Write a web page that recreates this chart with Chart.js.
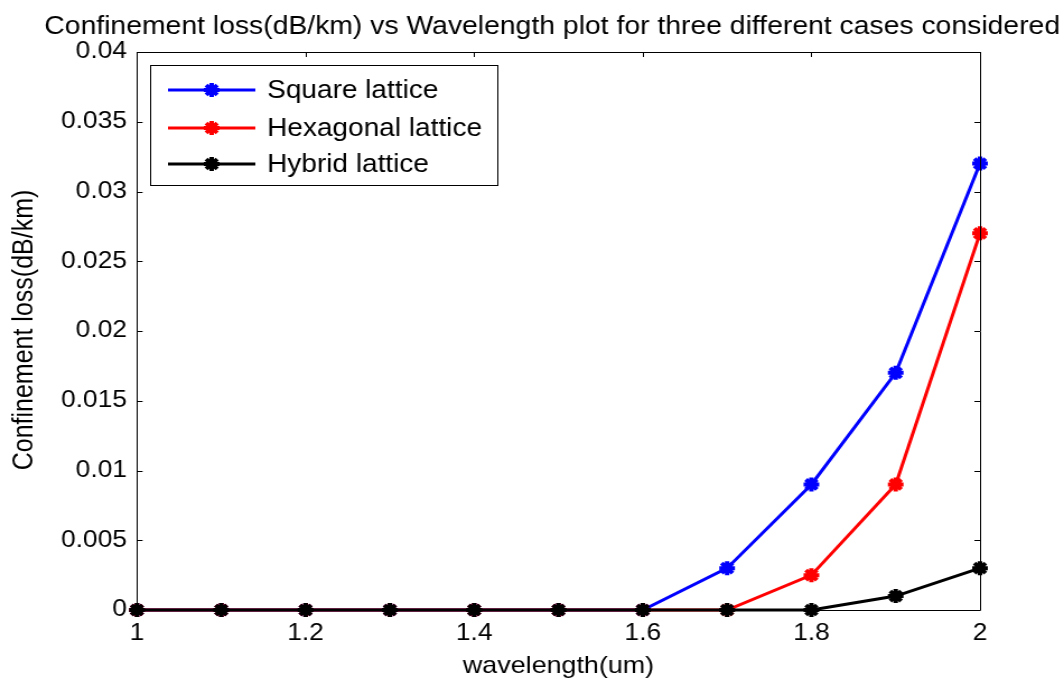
<!DOCTYPE html>
<html>
<head>
<meta charset="utf-8">
<script src="https://cdn.jsdelivr.net/npm/chart.js@4.4.0/dist/chart.umd.min.js"></script>
<style>
  html, body { margin: 0; padding: 0; background: #fff; overflow: hidden; }
  #wrap { width: 950px; height: 681px; transform-origin: 0 0; transform: scaleX(1.12); }
  canvas { display: block; }
</style>
</head>
<body>
<div id="wrap"><canvas id="c" width="950" height="681"></canvas></div>
<script>
const wavelength = [1.0, 1.1, 1.2, 1.3, 1.4, 1.5, 1.6, 1.7, 1.8, 1.9, 2.0];
const squareLoss = [0, 0, 0, 0, 0, 0, 0, 0.003, 0.009, 0.017, 0.032];
const hexagonalLoss = [0, 0, 0, 0, 0, 0, 0, 0, 0.0025, 0.009, 0.027];
const hybridLoss = [0, 0, 0, 0, 0, 0, 0, 0, 0, 0.001, 0.003];
const seriesNames = ['Square lattice', 'Hexagonal lattice', 'Hybrid lattice'];
const xTicks = [1, 1.2, 1.4, 1.6, 1.8, 2];
const yTicks = [0, 0.005, 0.01, 0.015, 0.02, 0.025, 0.03, 0.035, 0.04];
const titleText = 'Confinement loss(dB/km) vs Wavelength plot for three different cases considered';
const xLabel = 'wavelength(um)';
const yLabel = 'Confinement loss(dB/km)';

const FONT = '"Liberation Sans", Arial, sans-serif';

function mkData(arr) { return wavelength.map((x, i) => ({ x: x, y: arr[i] })); }

const colors = ['#0000ff', '#ff0000', '#000000'];
const datasets = [squareLoss, hexagonalLoss, hybridLoss].map((arr, i) => ({
  label: seriesNames[i],
  data: mkData(arr),
  borderColor: colors[i],
  backgroundColor: colors[i],
  borderWidth: 3,
  pointStyle: 'star',
  pointRadius: 7,
  pointBorderWidth: 4,
  pointBackgroundColor: colors[i],
  pointBorderColor: colors[i],
  tension: 0,
  clip: false,
  order: 2 - i
}));

const frame = {
  id: 'frame',
  afterDatasetsDraw(chart) {
    const ctx = chart.ctx, a = chart.chartArea;
    const xs = chart.scales.x, ys = chart.scales.y;
    ctx.save();
    ctx.strokeStyle = '#000';
    ctx.lineWidth = 1;
    ctx.beginPath();
    ctx.rect(Math.round(a.left) + 0.5, Math.round(a.top) + 0.5, Math.round(a.right - a.left), Math.round(a.bottom - a.top));
    ctx.stroke();
    const tl = 5;
    ctx.beginPath();
    xTicks.forEach(v => {
      const px = Math.round(xs.getPixelForValue(v)) + 0.5;
      ctx.moveTo(px, a.bottom); ctx.lineTo(px, a.bottom - tl);
      ctx.moveTo(px, a.top); ctx.lineTo(px, a.top + tl);
    });
    yTicks.forEach(v => {
      const py = Math.round(ys.getPixelForValue(v)) + 0.5;
      ctx.moveTo(a.left, py); ctx.lineTo(a.left + tl, py);
      ctx.moveTo(a.right, py); ctx.lineTo(a.right - tl, py);
    });
    ctx.stroke();

    // legend
    const bx = 134, by = 65, bw = 310, bh = 120;
    ctx.fillStyle = '#fff';
    ctx.fillRect(bx, by, bw, bh);
    ctx.strokeRect(bx + 0.5, by + 0.5, bw, bh);
    const rows = [90, 128, 164];
    chart.data.datasets.forEach((ds, i) => {
      const y = rows[i];
      ctx.strokeStyle = ds.borderColor;
      ctx.lineWidth = 3;
      ctx.beginPath(); ctx.moveTo(150, y); ctx.lineTo(228, y); ctx.stroke();
      ctx.fillStyle = ds.borderColor;
      ctx.lineWidth = 4;
      Chart.helpers.drawPoint(ctx, { pointStyle: 'star', radius: 7, borderWidth: 4, rotation: 0 }, 189, y);
      ctx.fillStyle = '#000';
      ctx.font = '25px ' + FONT;
      ctx.textAlign = 'left';
      ctx.textBaseline = 'middle';
      ctx.fillText(ds.label, 238.5, y + 1);
    });

    // titles
    ctx.fillStyle = '#000';
    ctx.textAlign = 'center';
    ctx.textBaseline = 'middle';
    ctx.font = '25.3px ' + FONT;
    ctx.fillText(titleText, 493, 27);
    ctx.font = '24px ' + FONT;
    ctx.fillText(xLabel, (a.left + a.right) / 2, 666);
    ctx.font = '25px ' + FONT;
    ctx.translate(22, 330);
    ctx.rotate(-Math.PI / 2);
    ctx.fillText(yLabel, 0, 0);
    ctx.restore();
  }
};

new Chart(document.getElementById('c'), {
  type: 'line',
  data: { datasets: datasets },
  options: {
    responsive: false,
    animation: false,
    devicePixelRatio: 1,
    layout: { padding: { top: 52, right: 75, bottom: 0, left: 0 } },
    plugins: { legend: { display: false }, title: { display: false }, tooltip: { enabled: false } },
    scales: {
      x: {
        type: 'linear', min: 1, max: 2,
        afterBuildTicks: s => { s.ticks = xTicks.map(v => ({ value: v })); },
        afterFit: s => { s.height = 71; },
        grid: { display: false, drawTicks: false },
        border: { display: false },
        ticks: { color: '#000', font: { family: FONT, size: 23.5 }, padding: 9, maxRotation: 0, callback: v => String(v) }
      },
      y: {
        type: 'linear', min: 0, max: 0.04,
        afterBuildTicks: s => { s.ticks = yTicks.map(v => ({ value: v })); },
        afterFit: s => { s.width = 122.3; },
        grid: { display: false, drawTicks: false },
        border: { display: false },
        ticks: { color: '#000', font: { family: FONT, size: 23.5 }, padding: 9, callback: v => String(v) }
      }
    }
  },
  plugins: [frame]
});
</script>
</body>
</html>
